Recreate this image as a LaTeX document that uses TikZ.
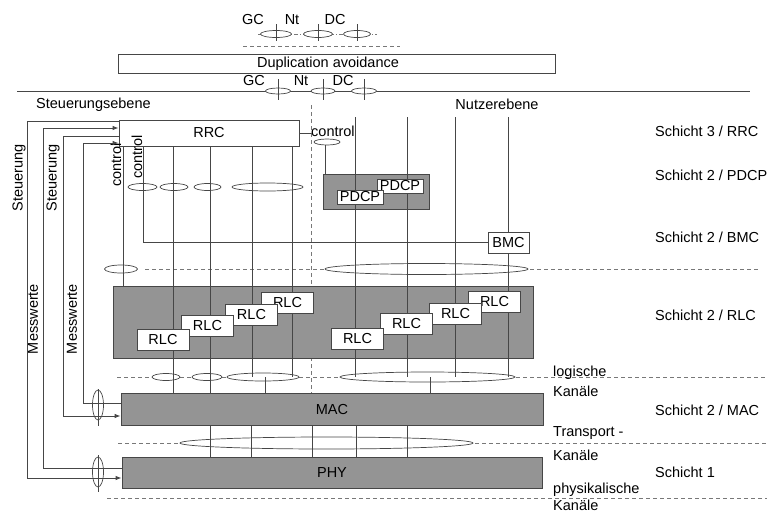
\documentclass[tikz,border=0pt]{standalone}
\usepackage{fontspec}
\setmainfont{Liberation Sans}
\usetikzlibrary{arrows.meta}
\definecolor{ln}{RGB}{70,70,70}
\definecolor{boxgray}{RGB}{148,148,148}
\definecolor{dsh}{RGB}{120,120,120}
\tikzset{
  txt/.style={font=\fontsize{14.5}{17}\selectfont, inner sep=0pt},
  wbox/.style={draw=ln, fill=white, line width=0.8pt, inner sep=0pt, font=\fontsize{14.5}{17}\selectfont},
  gbox/.style={draw=ln, fill=boxgray, line width=0.8pt},
  sap/.style={draw=ln, fill=white, line width=0.7pt},
  vl/.style={draw=ln, line width=0.9pt},
  dl/.style={draw=dsh, line width=0.8pt, dash pattern=on 4pt off 3pt},
  arr/.style={-{Latex[length=6pt,width=4.5pt]}},
}
\begin{document}
\begin{tikzpicture}[x=1pt,y=-1pt]
\useasboundingbox (0,0) rectangle (776,512);
% ---------- top ----------
\node[txt] (gc1) at (253,20) {GC};
\node[txt] (nt1) at (292,20) {Nt};
\node[txt] (dc1) at (335,20) {DC};
\draw[dsh, line width=0.8pt, dash pattern=on 4pt off 2pt on 1pt off 2pt] (258,34) -- (377,34);
\draw[dl] (243,46) -- (400,46);
\foreach \x/\w in {276/31,318/29,357/27}{
  \draw[sap] (\x,34) ellipse ({\w/2} and 3.5);
  \draw[vl] (\x,24) -- (\x,41);
}
\node[draw=ln, line width=0.8pt, minimum width=437, minimum height=19, inner sep=0pt] (dup) at (336.5,64) {};
\node[txt] (duptext) at (328,64) {Duplication avoidance};
\node[txt] (gc2) at (254,81) {GC};
\node[txt] (nt2) at (301,81) {Nt};
\node[txt] (dc2) at (343,81) {DC};
\draw[vl] (17,91) -- (750,91);
\foreach \x/\w in {278/25,323/24,364/25}{
  \draw[sap] (\x,91) ellipse ({\w/2} and 3);
  \draw[vl] (\x,79) -- (\x,100);
}
\node[txt, anchor=west] (se) at (36,105) {Steuerungsebene};
\node[txt] (ne) at (497,104) {Nutzerebene};
% ---------- right labels ----------
\node[txt, anchor=west] (s3) at (655,131) {Schicht 3 / RRC};
\node[txt, anchor=west] (s2p) at (655,175) {Schicht 2 / PDCP};
\node[txt, anchor=west] (s2b) at (655,237) {Schicht 2 / BMC};
\node[txt, anchor=west] (s2r) at (655,315) {Schicht 2 / RLC};
\node[txt, anchor=west] (s2m) at (655,410) {Schicht 2 / MAC};
\node[txt, anchor=west] (s1) at (655,472) {Schicht 1};
% ---------- dashed horizontal lines ----------
\draw[dl] (145,269) -- (758,269);
\draw[dl] (117,377) -- (767,377);
\draw[dl] (118,443) -- (767,443);
\draw[dl] (107,498) -- (767,498);
\draw[dl] (311,105) -- (311,393);
\node[txt, anchor=west] (lk1) at (553,373) {logische};
\node[txt, anchor=west] (lk2) at (553,391) {Kanäle};
\node[txt, anchor=west] (tk1) at (553,433) {Transport -};
\node[txt, anchor=west] (tk2) at (553,455) {Kanäle};
\node[txt, anchor=west] (pk1) at (553,490) {physikalische};
\node[txt, anchor=west] (pk2) at (553,505) {Kanäle};
% ---------- gray boxes ----------
\node[gbox, minimum width=106, minimum height=35, inner sep=0pt] (pdcpbox) at (376,191.5) {};
\node[gbox, minimum width=420, minimum height=72, inner sep=0pt] (rlcbox) at (323,322) {};
\node[gbox, minimum width=422, minimum height=32, inner sep=0pt, font=\fontsize{14.5}{17}\selectfont] (mac) at (332,409) {MAC};
\node[gbox, minimum width=420, minimum height=31, inner sep=0pt, font=\fontsize{14.5}{17}\selectfont] (phy) at (332,472.5) {PHY};
% ---------- RRC ----------
\node[wbox, minimum width=180, minimum height=26] (rrc) at (209,133) {RRC};
% ---------- SAP ellipses ----------
\draw[sap] (142.5,187) ellipse (14.5 and 3.5);
\draw[sap] (174,187) ellipse (14 and 3.5);
\draw[sap] (207.5,187) ellipse (13.5 and 3.5);
\draw[sap] (267.5,187) ellipse (35.5 and 4);
\draw[sap] (121,269) ellipse (16.5 and 4);
\draw[sap] (426.5,269) ellipse (101.5 and 5.5);
\draw[sap] (166,377) ellipse (14 and 3.5);
\draw[sap] (207,377) ellipse (15 and 3.5);
\draw[sap] (263,377) ellipse (36 and 4);
\draw[sap] (427.5,377) ellipse (87.5 and 5);
\draw[sap] (326.5,443) ellipse (146.5 and 6);
\draw[sap] (327,142) ellipse (13 and 3);
% ---------- vertical lines ----------
\draw[vl] (123,146) -- (123,286);
\draw[vl] (143,146) -- (143,242) -- (488,242);
\foreach \x in {173,210,252,292}{ \draw[vl] (\x,146) -- (\x,377); }
\foreach \x in {355,407,455,508}{ \draw[vl] (\x,117) -- (\x,377); }
\draw[vl] (173,377) -- (173,393);
\draw[vl] (210,377) -- (210,393);
\draw[vl] (265,377) -- (265,393);
\draw[vl] (430,377) -- (430,393);
\foreach \x in {210,251,312,356,407}{ \draw[vl] (\x,425) -- (\x,457); }
% control to PDCP
\draw[vl] (rrc.east |- 0,133) -- (311,133);
\node[txt, anchor=west] (ctl) at (311,131) {control};
\draw[vl] (325,145) -- (325,174);
% ---------- white boxes ----------
\node[wbox, minimum width=46, minimum height=14] (pdcp2) at (400,186) {PDCP};
\node[wbox, minimum width=46, minimum height=14] (pdcp1) at (360,197) {PDCP};
\node[wbox, minimum width=41, minimum height=21] (bmc) at (508.5,242.5) {BMC};
\foreach \n/\x/\y in {a4/287.5/302.5, a3/251.5/314.5, a2/207.5/325.5, a1/163/340,
                        b4/494.5/301.5, b3/455.5/313.5, b2/406.5/324, b1/357.5/338.5}{
  \node[wbox, minimum width=52, minimum height=21] (\n) at (\x,\y) {RLC};
}
% ---------- vertical texts ----------
\node[txt, rotate=90] (ctl1) at (116,165) {control};
\node[txt, rotate=90] (ctl2) at (137,157) {control};
\node[txt, rotate=90] (st1) at (19,178) {Steuerung};
\node[txt, rotate=90] (st2) at (53,178) {Steuerung};
\node[txt, rotate=90] (mw1) at (33,319) {Messwerte};
\node[txt, rotate=90] (mw2) at (72,319) {Messwerte};
% ---------- left control / measurement paths ----------
\draw[vl, arr] (rrc.west |- 0,121) -- (27,121) -- (27,478) -- (phy.west |- 0,478);
\draw[vl, arr] (phy.west |- 0,468) -- (43,468) -- (43,128) -- (rrc.west |- 0,128);
\draw[vl, arr] (rrc.west |- 0,136) -- (63,136) -- (63,416) -- (mac.west |- 0,416);
\draw[vl, arr] (mac.west |- 0,403) -- (83,403) -- (83,143) -- (rrc.west |- 0,143);
\draw[sap, fill=none] (98,405) ellipse (5.5 and 15);
\draw[vl] (98,389) -- (98,426);
\draw[sap, fill=none] (98,472) ellipse (5.5 and 15);
\draw[vl] (98,455) -- (98,492);
\end{tikzpicture}
\end{document}
